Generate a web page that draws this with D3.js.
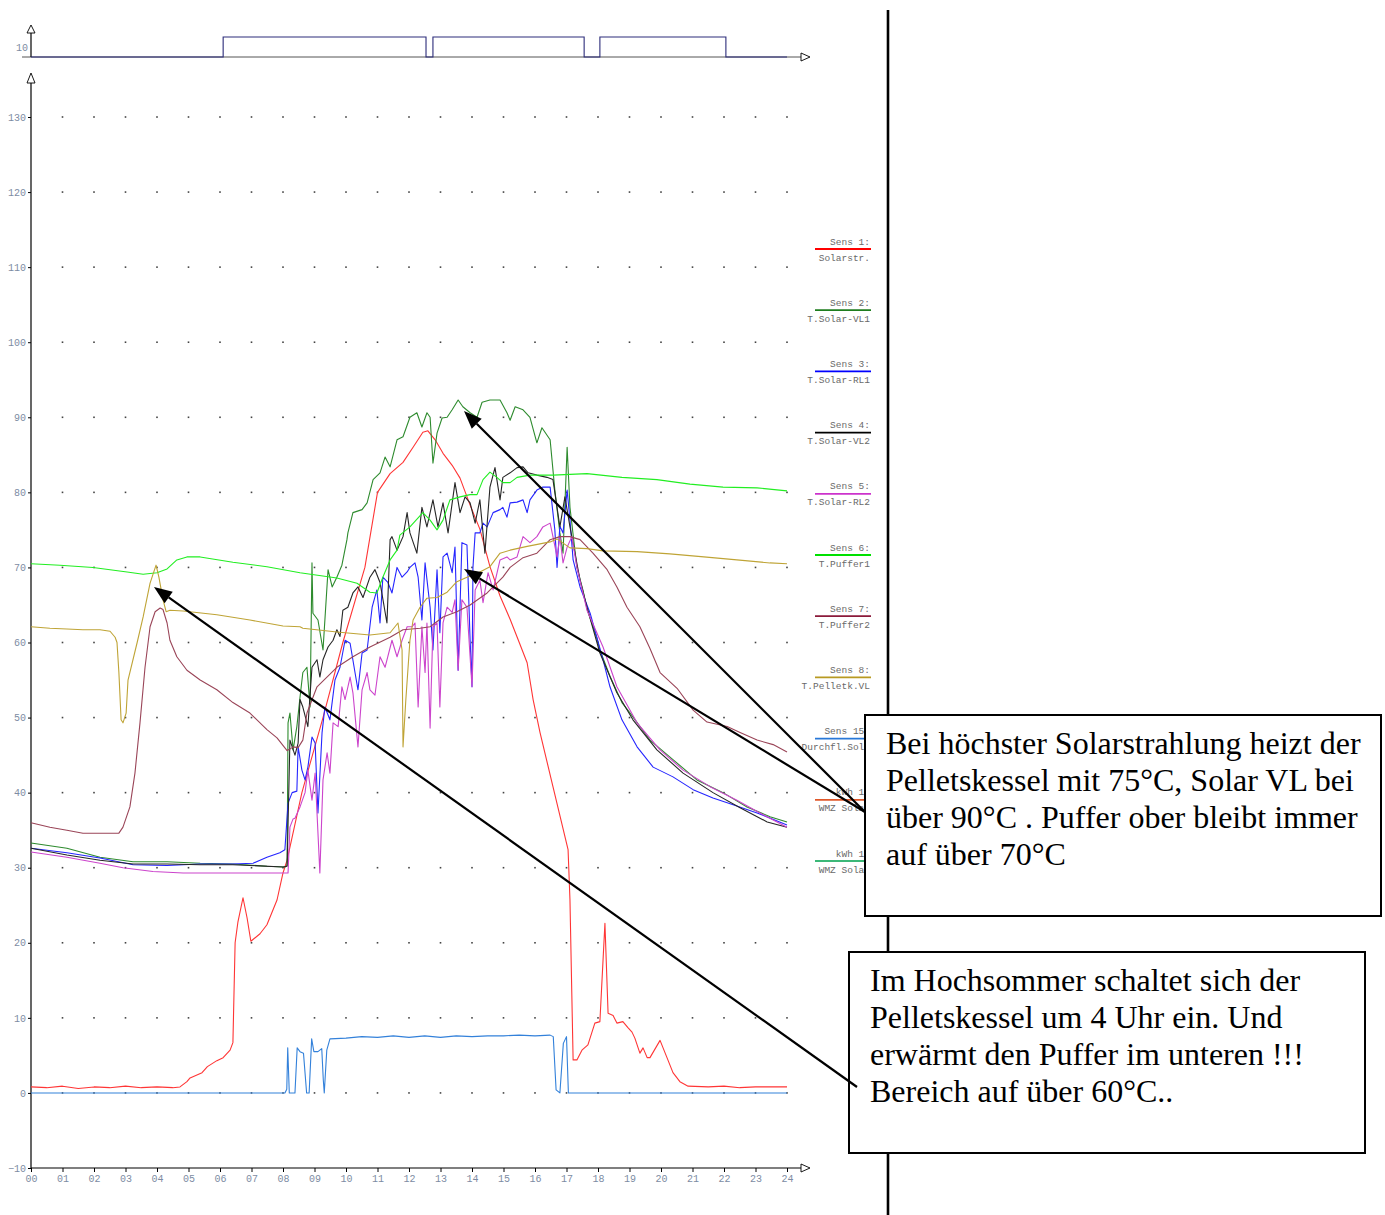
<!DOCTYPE html>
<html lang="de">
<head>
<meta charset="UTF-8">
<title>Tagesverlauf Solar / Pelletskessel</title>
<script src="https://d3js.org/d3.v7.min.js"></script>
<style>
  body { margin: 0; background: #fff; }
  .tick text { font: 10px "Liberation Mono", monospace; fill: #7d8ca3; }
  .tick line { stroke: #000; }
  .legend text { font: 9.5px "Liberation Mono", monospace; fill: #6a6a6a; }
  .note text { font: 32px "Liberation Serif", serif; fill: #000; }
  .series { fill: none; stroke-width: 1.1; stroke-linejoin: round; }
</style>
</head>
<body>
<svg width="1385" height="1215"></svg>
<script>
// ---- data: [hour, value] ----
const hours = d3.range(0, 25);
const yTicks = d3.range(-10, 131, 10);

// burner state strip on top (on/off periods, hours)
const burnerOn = [[6.1, 12.54], [12.76, 17.56], [18.06, 22.06]];

const sens1 = [[0,0.8],[0.5,0.7],[1,0.9],[1.5,0.6],[2,0.8],[2.5,0.7],[3,0.9],[3.5,0.7],[4,0.8],[4.5,0.7],[4.73,0.8],[4.95,1.5],[5.05,2.0],[5.43,2.7],[5.6,3.5],[5.9,4.3],[6.1,4.7],[6.32,5.7],[6.41,6.7],[6.48,20],[6.57,22.8],[6.73,26],[6.86,23.3],[6.98,20.2],[7.27,21.2],[7.49,22.4],[7.81,25.7],[8.0,29.3],[8.13,31],[8.6,40],[9.27,50],[9.9,60],[10.6,70],[11.0,80],[11.4,82.5],[11.81,84],[12.13,86],[12.44,88],[12.6,88.2],[12.83,87],[13.08,85.2],[13.37,83.6],[13.62,81.9],[13.94,78.3],[14.25,75.1],[14.57,70.1],[14.89,66.2],[15.21,63.1],[15.5,60],[15.75,57.3],[15.94,52.4],[16.16,48],[16.57,40.8],[17.05,32.4],[17.11,25.7],[17.21,4.4],[17.33,4.4],[17.49,5.7],[17.68,6.4],[17.9,9.3],[18.06,9.5],[18.22,22.6],[18.32,10.6],[18.48,10.3],[18.6,9.3],[18.79,9.5],[18.95,8.7],[19.08,8.1],[19.17,7.3],[19.33,5.3],[19.43,6],[19.56,4.7],[19.65,4.7],[19.97,7],[20.19,4.7],[20.38,2.7],[20.6,1.5],[20.86,0.9],[21.5,0.8],[22,0.9],[22.5,0.7],[23,0.8],[23.5,0.8],[24,0.8]];

const sens2 = [[0,33.3],[1.14,32.6],[2.19,31.4],[3.24,30.8],[4.32,30.8],[5.37,30.6],[6.41,30.5],[7.49,30.2],[8.06,30.1],[8.13,30.3],[8.16,49.3],[8.22,50.6],[8.32,45.7],[8.44,48.8],[8.54,52.7],[8.63,56],[8.76,56.7],[8.86,51.4],[8.92,70.6],[8.95,63.9],[9.11,63],[9.27,59],[9.43,69.7],[9.56,67.4],[9.71,68.7],[9.87,70.3],[10.03,73.7],[10.06,74.6],[10.22,77.3],[10.51,77.7],[10.67,78.6],[10.86,81.7],[11.08,82.6],[11.24,84.7],[11.4,83.4],[11.62,87],[11.81,87.4],[12.03,90],[12.25,90.6],[12.41,88.7],[12.57,90.6],[12.67,90],[12.76,83.9],[12.89,87.9],[13.05,89.9],[13.21,90],[13.37,91],[13.56,92.3],[13.71,91.4],[13.94,90.6],[14.16,90],[14.32,92],[14.57,92.3],[14.89,92.3],[15.11,90.6],[15.21,89.6],[15.37,91.4],[15.62,91],[15.84,90],[16.06,86.6],[16.22,88.6],[16.48,87],[16.63,80.3],[16.79,74.6],[16.89,71.9],[17.02,86],[17.11,78],[17.33,70],[17.52,67],[17.65,64.5],[17.97,60.5],[18.06,59],[18.38,55.5],[18.76,52],[19.02,50.6],[19.65,47],[20.38,44.4],[21.14,41.7],[21.97,40],[22.73,38.1],[23.46,36.8],[24,36.1]];

const sens3 = [[0,32.6],[1.14,32],[2.19,31.3],[3.24,30.4],[4.32,30.3],[5.37,30.5],[6.41,30.5],[7.05,30.6],[7.49,31.4],[7.9,32],[8.06,32.4],[8.16,38.6],[8.29,40],[8.44,40.2],[8.48,46.1],[8.6,43],[8.7,41.7],[8.79,43.4],[8.92,47.4],[9.02,46.6],[9.11,37.3],[9.24,48],[9.33,51.4],[9.49,49.7],[9.65,55],[9.81,56.7],[9.97,60.3],[10.13,59.9],[10.29,55.9],[10.38,53.7],[10.51,58.6],[10.67,59],[10.83,64.7],[10.98,67],[11.08,62.6],[11.17,68.7],[11.33,68],[11.46,66.6],[11.62,70],[11.78,68.7],[11.94,69.4],[12.03,70],[12.19,70.6],[12.29,68.7],[12.41,63],[12.51,70.6],[12.67,64.7],[12.76,59],[12.89,69.7],[12.98,61.3],[13.08,71.4],[13.21,71.9],[13.37,69.3],[13.46,72.7],[13.56,56.3],[13.68,73.3],[13.84,73],[13.94,60.3],[14.0,54.1],[14.03,70],[14.1,74.6],[14.25,74.6],[14.35,75.9],[14.48,75.4],[14.57,76.3],[14.67,77.3],[14.89,77.7],[14.98,78],[15.11,76.7],[15.21,78.6],[15.43,78.7],[15.62,79],[15.75,77.3],[15.84,79],[16.06,80.3],[16.25,80.7],[16.48,80.7],[16.63,75],[16.7,70],[16.79,75.5],[16.89,74.6],[17.02,80.3],[17.11,76.3],[17.21,71],[17.43,67.4],[17.75,63.9],[18.16,57.7],[18.38,54.1],[18.76,49.7],[19.24,46.1],[19.75,43.4],[20.38,42.1],[21.02,40.4],[21.65,39.3],[22.29,38.4],[23.05,37.3],[24,35.7]];

const sens4 = [[0,32.6],[1.14,31.7],[2.19,31],[3.24,30.5],[4.32,30.5],[5.37,30.4],[6.41,30.4],[8.0,30.1],[8.13,30.2],[8.22,47],[8.38,45],[8.48,46.6],[8.54,52.4],[8.63,51.4],[8.79,48.8],[8.92,56.7],[9.08,57.7],[9.17,55.4],[9.27,57.7],[9.43,59.4],[9.59,60.3],[9.71,61.7],[9.81,60.8],[9.9,64.3],[10.06,64.7],[10.22,66.6],[10.38,67.4],[10.54,66],[10.76,68.7],[10.92,69.7],[11.08,68],[11.3,62.6],[11.4,73.7],[11.46,74.1],[11.62,72.3],[11.81,74.1],[11.94,77.3],[12.03,74.6],[12.25,71.9],[12.41,78],[12.57,75.4],[12.76,79],[12.92,75.4],[13.08,78.6],[13.24,74.6],[13.46,81.3],[13.62,77.3],[13.78,79.4],[13.94,78.6],[14.1,75.9],[14.25,79],[14.41,71.9],[14.57,80.7],[14.73,83.3],[14.89,79],[14.98,82],[15.21,82.6],[15.43,83.3],[15.62,83.4],[15.78,82.6],[16.06,82.3],[16.38,82],[16.57,81.7],[16.79,75.4],[16.95,79.4],[17.11,75.4],[17.43,68.3],[17.65,64.7],[18.06,58.6],[18.6,53.3],[19.11,49.7],[19.87,45.7],[20.7,42.6],[21.65,40],[22.51,38],[23.37,36.1],[24,35.4]];

const sens5 = [[0,32.1],[1.14,31.4],[2.19,30.6],[2.92,30],[3.87,29.5],[4.83,29.3],[5.9,29.3],[6.95,29.3],[8.16,29.3],[8.22,35.4],[8.32,36.5],[8.38,36.6],[8.54,38.1],[8.7,40],[8.79,43],[8.92,39],[9.02,42.6],[9.17,29.3],[9.27,41.7],[9.4,45.3],[9.49,42.6],[9.59,49.3],[9.75,48.8],[9.87,54.1],[9.97,52.4],[10.13,55.4],[10.22,53.3],[10.38,46.1],[10.51,53.7],[10.67,56],[10.76,53.7],[10.92,53],[11.08,58.1],[11.24,56.7],[11.46,60.3],[11.62,58.1],[11.78,60.3],[11.94,62.1],[12.1,62.1],[12.19,62.6],[12.29,51.4],[12.41,62.1],[12.51,56],[12.57,62.6],[12.67,48.6],[12.76,62.1],[12.89,62.6],[12.98,51.4],[13.08,62.6],[13.21,64.7],[13.37,64],[13.46,65.7],[13.56,56.3],[13.68,65.7],[13.84,64.7],[14.0,54.1],[14.1,67],[14.25,68.3],[14.35,65.3],[14.51,69.3],[14.67,67],[14.89,71],[15.11,71.4],[15.21,71],[15.43,71.4],[15.62,74.1],[15.84,73.3],[16.06,74.1],[16.25,75.4],[16.48,75.9],[16.57,74.1],[16.7,71.4],[16.79,74.1],[16.89,70.6],[17.02,72.7],[17.17,74.1],[17.33,70],[17.65,64.3],[18.16,59.4],[18.6,54.1],[19.24,49.3],[19.97,45.7],[20.7,43],[21.56,40.8],[22.41,39],[23.14,37.3],[24,35.4]];

const sens6 = [[0,70.5],[0.92,70.3],[1.97,70],[3.05,69.4],[3.56,69.1],[4.0,69.3],[4.32,69.8],[4.63,71],[4.95,71.4],[5.37,71.4],[6.41,70.7],[7.49,70.1],[8.54,69.3],[9.71,68.6],[10.35,67.9],[10.76,66.7],[10.98,66.6],[11.17,68.7],[11.4,71],[11.62,72.3],[11.71,74.3],[12.03,75.4],[12.44,77.3],[12.67,76.3],[12.89,75],[13.08,76.3],[13.3,79],[13.62,79.4],[13.94,79.7],[14.16,79.7],[14.35,81.7],[14.57,82.7],[14.79,82],[14.98,81.3],[15.21,81.3],[15.43,82],[15.84,82.3],[16.57,82.3],[17.65,82.5],[18.76,82],[19.87,81.7],[20.92,81.1],[21.97,80.7],[23.05,80.6],[24,80.2]];

const sens7 = [[0,36],[0.6,35.4],[1.14,35],[1.65,34.6],[2.19,34.6],[2.79,34.6],[2.92,35.4],[3.14,38.1],[3.3,42.6],[3.46,49.3],[3.62,56.7],[3.78,62.1],[3.94,64.1],[4.1,64.6],[4.19,64.4],[4.32,62.6],[4.41,60.3],[4.63,58.1],[4.95,56.3],[5.37,55],[5.9,53.7],[6.41,52],[6.95,50.6],[7.49,48.4],[7.81,47.3],[8.13,45.6],[8.22,45.8],[8.32,46.1],[8.48,46],[8.63,47],[8.76,50.6],[9.08,54.1],[9.71,56.7],[10.22,58.1],[10.76,59.4],[11.4,60.7],[11.81,61.7],[12.35,61.9],[12.67,62.1],[13.08,63.4],[13.52,64.1],[13.94,65],[14.48,66.6],[14.98,68.7],[15.21,70],[15.62,71.3],[16.06,71.9],[16.48,73.7],[16.79,74.1],[17.11,74.1],[17.43,73.7],[17.84,71.9],[18.29,69.7],[18.6,67.4],[18.92,64.7],[19.33,62.1],[19.65,59.2],[19.97,56],[20.51,53.9],[21.02,51],[21.46,49.4],[22.1,48.8],[22.51,48],[23.05,47],[23.56,46.4],[24,45.4]];

const sens8 = [[0,62.1],[0.6,61.9],[1.14,61.8],[1.65,61.7],[2.19,61.7],[2.51,61.5],[2.67,60.7],[2.73,60],[2.79,56],[2.86,49.7],[2.92,49.3],[3.02,50.6],[3.08,55],[3.37,60],[3.56,63.4],[3.78,67.9],[3.97,70.3],[4.06,68.7],[4.19,65.7],[4.29,64.1],[4.41,64.3],[4.83,64.2],[5.9,63.7],[6.95,63],[8.0,62.2],[8.54,62.1],[8.63,61.9],[9.71,61.4],[10.76,61],[11.4,61.3],[11.65,62.6],[11.78,59],[11.81,46.1],[11.9,52.4],[12.03,60.3],[12.13,63],[12.35,64.7],[12.57,65.9],[12.89,66],[13.21,66.7],[13.52,68.1],[13.84,68.7],[14.16,69.2],[14.57,70.1],[14.89,71.9],[15.21,72.3],[15.75,72.8],[16.48,73.4],[16.7,73.8],[17.11,72.6],[17.65,72.5],[18.16,72.2],[19.24,72.1],[20.28,71.8],[21.36,71.4],[22.41,71],[23.46,70.6],[24,70.5]];

const sens15 = [[0,0],[8.06,0],[8.12,0.5],[8.15,6],[8.2,0],[8.38,0],[8.45,6],[8.54,5.5],[8.65,5.3],[8.75,0],[8.83,0],[8.91,7.2],[8.98,5.5],[9.11,5.5],[9.23,5.9],[9.28,1.7],[9.31,0],[9.39,5.7],[9.49,7.2],[10,7.3],[10.5,7.5],[11,7.4],[11.5,7.6],[12,7.4],[12.5,7.6],[13,7.4],[13.5,7.6],[14,7.5],[14.5,7.6],[15,7.6],[15.5,7.7],[16,7.6],[16.48,7.7],[16.58,7.5],[16.67,0.4],[16.79,0],[16.9,6.6],[17.0,7.5],[17.06,0],[24,0]];

const seriesList = [sens1, sens2, sens3, sens4, sens5, sens6, sens7, sens8, sens15];
const seriesColors = ["#ff3535", "#2e8b2e", "#2525ff", "#262626", "#cc44cc", "#22ee22", "#9a4558", "#bfa436", "#3381da"];

const legendNames = ["Sens 1:", "Sens 2:", "Sens 3:", "Sens 4:", "Sens 5:", "Sens 6:", "Sens 7:", "Sens 8:", "Sens 15:", "kWh 1:", "kWh 1:"];
const legendSubs = ["Solarstr.", "T.Solar-VL1", "T.Solar-RL1", "T.Solar-VL2", "T.Solar-RL2", "T.Puffer1", "T.Puffer2", "T.Pelletk.VL", "Durchfl.Sol1", "WMZ Solar", "WMZ Solar"];
const legendColors = ["#ff0000", "#1e7d1e", "#0000ff", "#000000", "#cc33cc", "#00e000", "#8b1a3a", "#b89a22", "#2878d8", "#e0582a", "#3cb878"];

const note1 = ["Bei höchster Solarstrahlung heizt der", "Pelletskessel mit 75°C, Solar VL bei", "über 90°C . Puffer ober bleibt immer", "auf über 70°C"];
const note2 = ["Im Hochsommer schaltet sich der", "Pelletskessel um 4 Uhr ein. Und", "erwärmt den Puffer im unteren !!!", "Bereich auf über 60°C.."];

// ---- drawing ----
const svg = d3.select("svg");

const x = d3.scaleLinear().domain([0, 24]).range([31, 787]);
const y = d3.scaleLinear().domain([-10, 130]).range([1168, 117]);
const ys = d3.scaleLinear().domain([0, 20]).range([57, 37]);

function openArrow(g, pts) {
    g.append("path")
        .attr("d", "M" + pts.join("L") + "Z")
        .attr("fill", "#fff")
        .attr("stroke", "#000")
        .attr("stroke-width", 0.9);
}

// top strip
const strip = svg.append("g");
strip.append("line").attr("x1", 22).attr("x2", 801).attr("y1", ys(0)).attr("y2", ys(0))
    .attr("stroke", "#555").attr("stroke-width", 1);
strip.append("line").attr("x1", 31).attr("x2", 31).attr("y1", ys(0)).attr("y2", 33)
    .attr("stroke", "#000").attr("stroke-width", 1.2);
openArrow(strip, [[31, 25], [27, 33], [35, 33]]);
openArrow(strip, [[810, 57], [801, 53], [801, 61]]);
strip.append("g")
    .attr("transform", "translate(31,0)")
    .call(d3.axisLeft(ys).tickValues([10]).tickSize(0).tickPadding(3))
    .call(g => g.select(".domain").remove());

const stripPts = [[0, 0]];
burnerOn.forEach(p => { stripPts.push([p[0], 0], [p[0], 20], [p[1], 20], [p[1], 0]); });
stripPts.push([24, 0]);
strip.append("path")
    .datum(stripPts)
    .attr("fill", "none")
    .attr("stroke", "#2c2c7a")
    .attr("stroke-width", 1.1)
    .attr("d", d3.line().x(d => x(d[0])).y(d => ys(d[1])));

// grid dots
const dots = [];
hours.slice(1).forEach(h => yTicks.filter(v => v >= 0).forEach(v => dots.push([h, v])));
svg.append("g").selectAll("rect")
    .data(dots)
    .enter()
    .append("rect")
    .attr("x", d => x(d[0]) - 0.8)
    .attr("y", d => y(d[1]) - 0.8)
    .attr("width", 1.6)
    .attr("height", 1.6)
    .attr("fill", "#444");

// axes
svg.append("g")
    .attr("transform", "translate(31,0)")
    .call(d3.axisLeft(y).tickValues(yTicks).tickSize(3).tickPadding(2))
    .call(g => g.select(".domain").remove());
svg.append("g")
    .attr("transform", "translate(0,1168)")
    .call(d3.axisBottom(x).tickValues(hours).tickFormat(d3.format("02d")).tickSize(4).tickPadding(3))
    .call(g => g.select(".domain").remove());

svg.append("line").attr("x1", 31).attr("x2", 31).attr("y1", 1168).attr("y2", 83)
    .attr("stroke", "#000").attr("stroke-width", 1.2);
svg.append("line").attr("x1", 31).attr("x2", 801).attr("y1", 1168).attr("y2", 1168)
    .attr("stroke", "#000").attr("stroke-width", 1.2);
openArrow(svg, [[31, 73], [27, 83], [35, 83]]);
openArrow(svg, [[810, 1168], [801, 1164], [801, 1172]]);

// data lines
const line = d3.line().x(d => x(d[0])).y(d => y(d[1]));
svg.append("g").selectAll("path")
    .data(seriesList)
    .enter()
    .append("path")
    .attr("class", "series")
    .attr("stroke", (d, i) => seriesColors[i])
    .attr("d", line);

// legend
const legend = svg.append("g").attr("class", "legend");
legendNames.forEach((name, i) => {
    const ly = 241 + 61.2 * i;
    legend.append("text").attr("x", 870).attr("y", ly + 3.5).attr("text-anchor", "end").text(name);
    legend.append("line").attr("x1", 815).attr("x2", 871).attr("y1", ly + 8).attr("y2", ly + 8)
        .attr("stroke", legendColors[i]).attr("stroke-width", 1.8);
    legend.append("text").attr("x", 870).attr("y", ly + 19.5).attr("text-anchor", "end").text(legendSubs[i]);
});

// divider
svg.append("line").attr("x1", 888).attr("x2", 888).attr("y1", 10).attr("y2", 1215)
    .attr("stroke", "#000").attr("stroke-width", 2.6);

// annotation arrows
function arrow(x1, y1, x2, y2) {
    const a = Math.atan2(y2 - y1, x2 - x1), len = 18, hw = 7;
    const bx = x2 - len * Math.cos(a), by = y2 - len * Math.sin(a);
    svg.append("line").attr("x1", x1).attr("y1", y1).attr("x2", bx).attr("y2", by)
        .attr("stroke", "#000").attr("stroke-width", 2.2);
    svg.append("path")
        .attr("d", `M${x2},${y2}L${bx + hw * Math.sin(a)},${by - hw * Math.cos(a)}L${bx - hw * Math.sin(a)},${by + hw * Math.cos(a)}Z`)
        .attr("fill", "#000");
}

// note boxes
function noteBox(bx, by, bw, bh, tx, lines) {
    const g = svg.append("g").attr("class", "note");
    g.append("rect").attr("x", bx).attr("y", by).attr("width", bw).attr("height", bh)
        .attr("fill", "#fff").attr("stroke", "#000").attr("stroke-width", 2);
    lines.forEach((t, i) => {
        g.append("text").attr("x", tx).attr("y", by + 39 + i * 37).text(t);
    });
}
noteBox(865, 715, 516, 201, 886, note1);
noteBox(849, 952, 516, 201, 870, note2);

arrow(865, 812, 464, 411);
arrow(865, 812, 464, 569);
arrow(857, 1087, 154, 587);
</script>
</body>
</html>
